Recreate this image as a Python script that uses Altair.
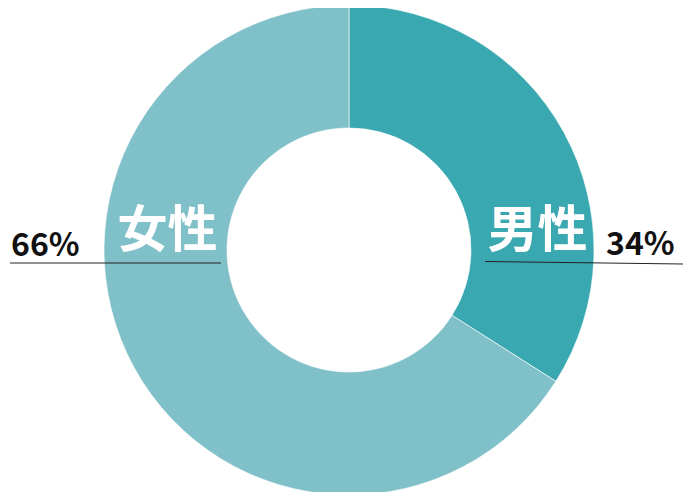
import altair as alt
import pandas as pd

categories = ["男性", "女性"]
values = [34, 66]
colors = ["#3aa8b0", "#80c0c8"]
pct_labels = ["34%", "66%"]

df = pd.DataFrame({"cat": categories, "val": values, "ord": [0, 1]})

FONT = "Noto Sans CJK JP"

arc = alt.Chart(df).mark_arc(innerRadius=122, outerRadius=245, stroke="white", strokeWidth=0.6).encode(
    theta=alt.Theta("val:Q", stack=True),
    color=alt.Color("cat:N", scale=alt.Scale(domain=categories, range=colors), legend=None),
    order=alt.Order("ord:Q"),
    x=alt.value(341),
    y=alt.value(242),
)

lab = pd.DataFrame({
    "cat": categories,
    "pct": pct_labels,
    "cx": [529.5, 159.5],
    "cy": [224, 224],
    "px": [598, 3],
    "py": [247, 248],
    "lx": [477, 2],
    "lx2": [675, 213],
    "ly": [253.5, 255],
    "ly2": [256, 255],
})

name_text = alt.Chart(lab).mark_text(
    font=FONT, fontSize=50, fontWeight="bold", color="white", align="center", baseline="middle"
).encode(
    x=alt.X("cx:Q", scale=None), y=alt.Y("cy:Q", scale=None), text="cat:N"
)

pct_text = alt.Chart(lab).mark_text(
    font=FONT, fontSize=32, fontWeight="bold", color="#111111", align="left", baseline="alphabetic"
).encode(
    x=alt.X("px:Q", scale=None), y=alt.Y("py:Q", scale=None), text="pct:N"
)

rules = alt.Chart(lab).mark_rule(color="#222222", strokeWidth=1).encode(
    x=alt.X("lx:Q", scale=None), x2="lx2:Q",
    y=alt.Y("ly:Q", scale=None), y2="ly2:Q",
)

chart = alt.layer(arc, name_text, rules, pct_text).properties(
    width=679, height=484, padding=0, autosize=alt.AutoSizeParams(type="none")
).configure_view(stroke=None)

chart.save("out.html", embed_options={"renderer": "svg", "actions": False})
